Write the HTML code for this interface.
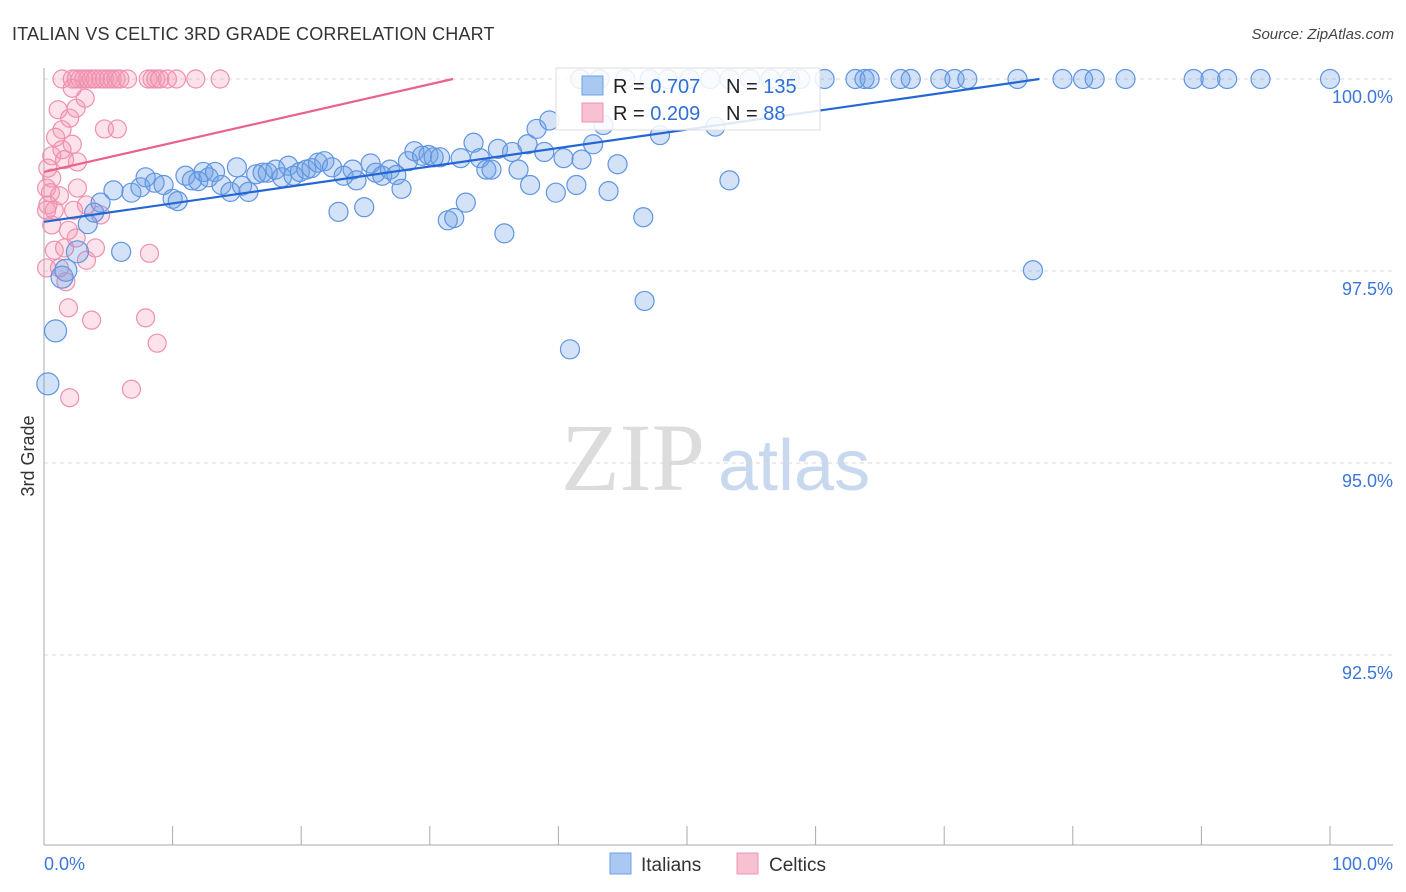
<!DOCTYPE html>
<html><head><meta charset="utf-8"><style>
body{margin:0;background:#fff;font-family:"Liberation Sans",sans-serif}
</style></head><body>
<svg id="c" width="1406" height="892" xmlns="http://www.w3.org/2000/svg" style="display:block">
<text x="12" y="40" font-size="18" fill="#333" letter-spacing="0.2">ITALIAN VS CELTIC 3RD GRADE CORRELATION CHART</text>
<text x="1394" y="39" font-size="15" fill="#444" text-anchor="end" font-style="italic">Source: ZipAtlas.com</text>
<text x="633" y="490" font-size="96" fill="#dcdcdc" text-anchor="middle" font-family="Liberation Serif, serif">ZIP</text>
<text x="718" y="490" font-size="72" fill="#c8d9ef">atlas</text>
<text transform="translate(34,456) rotate(-90)" font-size="18" fill="#333" text-anchor="middle">3rd Grade</text>
<g id="grid"></g><g id="pts"></g><g id="lines"></g>
<g>
<rect x="556" y="68" width="264" height="62" fill="#fff" fill-opacity="0.85" stroke="#ddd"/>
<rect x="582" y="76" width="21" height="19" fill="#a9c8f2" stroke="#6f9fe3"/>
<rect x="582" y="103" width="21" height="19" fill="#f8c1d1" stroke="#ec94b0"/>
<text x="613" y="93" font-size="20" fill="#222">R = <tspan fill="#2e6fd6">0.707</tspan></text>
<text x="726" y="93" font-size="20" fill="#222">N = <tspan fill="#2e6fd6">135</tspan></text>
<text x="613" y="120" font-size="20" fill="#222">R = <tspan fill="#2e6fd6">0.209</tspan></text>
<text x="726" y="120" font-size="20" fill="#222">N = <tspan fill="#2e6fd6"> 88</tspan></text>
</g>
<g>
<rect x="610" y="853" width="21" height="21" fill="#a9c8f2" stroke="#6f9fe3"/>
<text x="641" y="871" font-size="19" fill="#333">Italians</text>
<rect x="737" y="853" width="21" height="21" fill="#f8c1d1" stroke="#ec94b0"/>
<text x="769" y="871" font-size="19" fill="#333">Celtics</text>
</g>
</svg>
<script>
const yTicks=[100,97.5,95,92.5];
const yTickLabels=["100.0%","97.5%","95.0%","92.5%"];
const xEndLabels=["0.0%","100.0%"];
const italiansX=[0.3,0.9,1.4,1.7,2.6,3.4,3.9,4.4,5.4,6.0,6.8,7.5,7.9,8.6,9.3,10.0,10.4,11.0,11.5,12.0,12.4,12.8,13.3,13.8,14.5,15.0,15.4,15.9,16.5,17.0,17.4,18.0,18.5,19.0,19.4,19.9,20.4,20.8,21.3,21.8,22.4,22.9,23.3,24.0,24.3,24.9,25.4,25.8,26.3,26.9,27.4,27.8,28.3,28.8,29.4,29.9,30.3,30.8,31.4,31.9,32.4,32.8,33.4,33.9,34.4,34.8,35.3,35.8,36.4,36.9,37.6,37.8,38.3,38.9,39.3,39.8,40.4,40.9,41.4,41.8,42.7,43.5,43.9,44.6,46.6,46.7,47.9,52.2,53.3,76.9,41.7,43.2,45.2,47.1,48.5,50.2,51.8,53.3,54.9,56.5,58.0,58.8,60.7,63.1,63.8,64.2,66.6,67.4,69.7,70.8,71.8,75.7,79.2,80.8,81.7,84.1,89.4,90.7,92.0,94.6,100];
const italiansY=[96.03,96.72,97.42,97.51,97.75,98.11,98.26,98.39,98.55,97.75,98.52,98.59,98.72,98.65,98.62,98.44,98.41,98.74,98.68,98.67,98.79,98.72,98.79,98.62,98.53,98.85,98.61,98.53,98.76,98.78,98.78,98.82,98.72,98.87,98.74,98.79,98.82,98.84,98.91,98.93,98.85,98.27,98.74,98.82,98.68,98.33,98.90,98.78,98.74,98.82,98.75,98.57,98.93,99.06,99.00,99.01,98.98,98.98,98.16,98.19,98.97,98.39,99.17,98.97,98.82,98.82,99.09,97.99,99.05,98.82,99.15,98.62,99.35,99.05,99.46,98.52,98.97,96.48,98.62,98.95,99.15,99.40,98.54,98.89,98.20,97.11,99.27,99.38,98.68,97.51,100,100,100,100,100,100,100,100,100,100,100,100,100,100,100,100,100,100,100,100,100,100,100,100,100,100,100,100,100,100,100];
const celticsX=[1.4,2.2,2.5,2.8,3.1,3.4,3.7,4.0,4.4,4.7,5.0,5.3,5.6,5.9,6.5,8.1,8.4,8.7,9.0,9.6,10.3,11.8,13.7,1.1,2.0,2.2,2.5,3.2,1.4,4.7,5.7,0.9,2.2,1.4,0.6,1.6,2.6,0.3,0.6,0.2,0.5,1.2,2.6,0.3,0.8,2.3,3.3,4.4,0.6,1.9,0.8,1.6,2.5,3.3,4.0,8.2,1.2,1.7,1.9,3.7,7.9,8.8,6.8,2.0,0.2,0.2];
const celticsY=[100,100,100,100,100,100,100,100,100,100,100,100,100,100,100,100,100,100,100,100,100,100,100,99.60,99.49,99.88,99.62,99.75,99.34,99.35,99.35,99.24,99.15,99.08,99.0,98.95,98.92,98.84,98.71,98.58,98.52,98.48,98.58,98.36,98.29,98.29,98.36,98.23,98.10,98.03,97.77,97.80,97.93,97.64,97.80,97.73,97.54,97.36,97.02,96.86,96.89,96.56,95.96,95.85,97.54,98.29];
const italiansTrend=[[0,98.14],[77.4,100]];
const celticsTrend=[[0,98.79],[31.8,100]];

const NS="http://www.w3.org/2000/svg";
const X=v=>44+v*12.86, Y=v=>79+(100-v)*76.8;
function mk(t,a,p){const e=document.createElementNS(NS,t);for(const k in a)e.setAttribute(k,a[k]);p.appendChild(e);return e;}
const grid=document.getElementById('grid');
yTicks.forEach((t,i)=>{
  const l=mk('line',{x1:44,x2:1393,y1:Y(t),y2:Y(t),stroke:'#d8d8d8','stroke-dasharray':'4,4'},grid);
  
  
  const tx=mk('text',{x:1393,y:Y(t)+24,'font-size':18,fill:'#3b76d8','text-anchor':'end'},grid);
  tx.textContent=yTickLabels[i];
  
  
});
const ax=mk('line',{x1:44,x2:44,y1:68,y2:845,stroke:'#aaa'},grid);


const xa=mk('line',{x1:44,x2:1393,y1:845,y2:845,stroke:'#aaa'},grid);


for(let i=0;i<=10;i++){
  const t=mk('line',{x1:X(i*10),x2:X(i*10),y1:826,y2:845,stroke:'#aaa'},grid);
  
  
}
[[0,'start',44],[100,'end',1393]].forEach((d,i)=>{
  const t=mk('text',{x:d[2],y:870,'font-size':18,fill:'#3b76d8','text-anchor':d[1]},grid);
  t.textContent=xEndLabels[i];
  
  
});
const pts=document.getElementById('pts');
celticsX.forEach((x,i)=>{
  const c=mk('circle',{cx:X(x),cy:Y(celticsY[i]),r:9,fill:'rgba(244,150,180,0.28)',stroke:'#ee90ae','stroke-width':1.2},pts);
  
  
});
italiansX.forEach((x,i)=>{
  const c=mk('circle',{cx:X(x),cy:Y(italiansY[i]),r:i<5?11:9.5,fill:'rgba(110,160,230,0.3)',stroke:'#5f95e2','stroke-width':1.2},pts);
  
  
});
const lines=document.getElementById('lines');
const lb=mk('line',{x1:X(italiansTrend[0][0]),y1:Y(italiansTrend[0][1]),x2:X(italiansTrend[1][0]),y2:Y(italiansTrend[1][1]),stroke:'#2467d4','stroke-width':2.2},lines);


const lp=mk('line',{x1:X(celticsTrend[0][0]),y1:Y(celticsTrend[0][1]),x2:X(celticsTrend[1][0]),y2:Y(celticsTrend[1][1]),stroke:'#e8628c','stroke-width':2.2},lines);


</script>
</body></html>
